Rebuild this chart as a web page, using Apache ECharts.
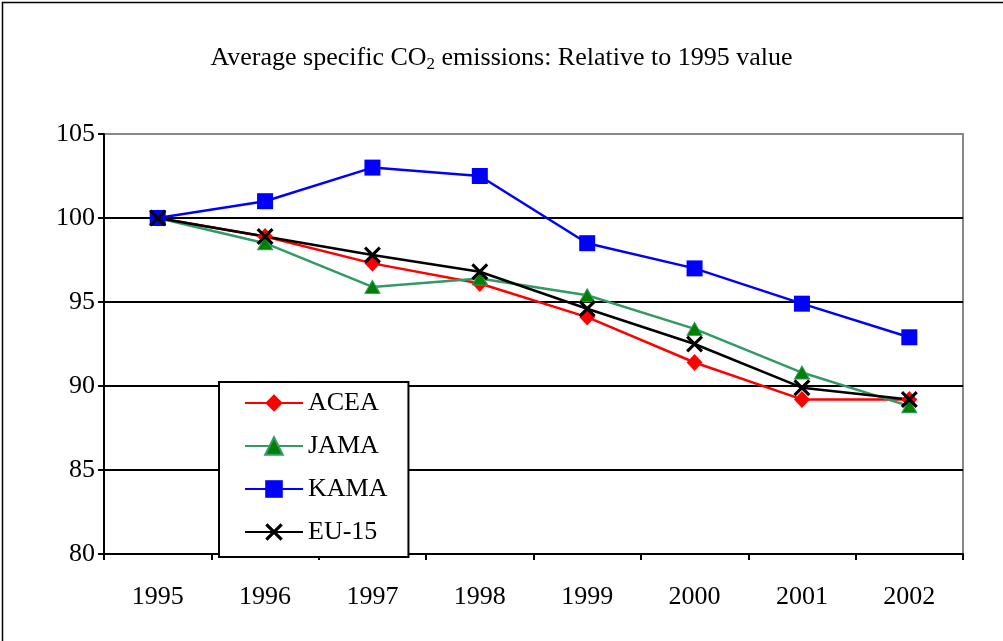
<!DOCTYPE html>
<html>
<head>
<meta charset="utf-8">
<title>Average specific CO2 emissions</title>
<script src="https://cdn.jsdelivr.net/npm/echarts@6/dist/echarts.min.js"></script>
<style>
  html, body { margin: 0; padding: 0; background: #fff; }
  #chart { width: 1003px; height: 641px; }
</style>
</head>
<body>
<div id="chart"></div>
<script>
// data
var years = ['1995', '1996', '1997', '1998', '1999', '2000', '2001', '2002'];
var acea = [100, 98.9, 97.3, 96.1, 94.1, 91.4, 89.2, 89.2];
var jama = [100, 98.5, 95.9, 96.4, 95.4, 93.4, 90.8, 88.8];
var kama = [100, 101, 103, 102.5, 98.5, 97.0, 94.9, 92.9];
var eu15 = [100, 98.9, 97.8, 96.8, 94.6, 92.5, 89.9, 89.2];

var serif = '"Liberation Serif", "DejaVu Serif", serif';
var crossPath = 'path://M0,1.3L1.3,0L5,3.7L8.7,0L10,1.3L6.3,5L10,8.7L8.7,10L5,6.3L1.3,10L0,8.7L3.7,5Z';

var chart = echarts.init(document.getElementById('chart'));

var option = {
  backgroundColor: '#fff',
  animation: false,
  title: {
    text: 'Average specific CO{sub|2} emissions: Relative to 1995 value',
    left: 'center',
    top: 39,
    textStyle: {
      fontFamily: serif,
      fontSize: 26,
      fontWeight: 'normal',
      color: '#000',
      rich: {
        sub: { fontFamily: serif, fontSize: 17, color: '#000', verticalAlign: 'bottom', padding: [12, 0, 0, 0] }
      }
    }
  },
  graphic: [{
    type: 'rect',
    left: 0, top: 0,
    shape: { x: 0, y: 0, width: 1020, height: 660 },
    position: [4, 1],
    style: { fill: 'none', stroke: '#000', lineWidth: 1.5 },
    silent: true,
    z: -1
  }],
  legend: {
    orient: 'vertical',
    left: 219,
    top: 382,
    padding: [8, 21, 12, 25],
    itemWidth: 58,
    itemHeight: 22,
    itemGap: 17,
    borderColor: '#000',
    borderWidth: 2,
    backgroundColor: '#fff',
    textStyle: { fontFamily: serif, fontSize: 26, color: '#000' },
    data: ['ACEA', 'JAMA', 'KAMA', 'EU-15']
  },
  grid: { left: 104, right: 40, top: 134, bottom: 87, show: true, borderColor: '#888', borderWidth: 2 },
  xAxis: {
    type: 'category',
    data: years,
    boundaryGap: true,
    axisLine: { lineStyle: { color: '#000', width: 2 } },
    axisTick: { show: true, length: 6, lineStyle: { color: '#000', width: 2 } },
    axisLabel: { fontFamily: serif, fontSize: 26, color: '#000', margin: 30 }
  },
  yAxis: {
    type: 'value',
    min: 80, max: 105, interval: 5,
    axisLine: { show: true, lineStyle: { color: '#000', width: 2 } },
    axisTick: { show: true, length: 6, lineStyle: { color: '#000', width: 2 } },
    axisLabel: { fontFamily: serif, fontSize: 26, color: '#000', margin: 9 },
    splitLine: { lineStyle: { color: ['#000', '#000', '#000', '#000', '#000', '#888'], width: 2 } }
  },
  series: [
    {
      name: 'ACEA', type: 'line', data: acea,
      symbol: 'diamond', symbolSize: [16, 17],
      lineStyle: { color: '#ff0000', width: 2.5 },
      itemStyle: { color: '#ff0000' }
    },
    {
      name: 'JAMA', type: 'line', data: jama,
      symbol: 'triangle', symbolSize: [15, 13],
      lineStyle: { color: '#339966', width: 2.5 },
      itemStyle: { color: '#008000', borderColor: '#339966', borderWidth: 1 }
    },
    {
      name: 'KAMA', type: 'line', data: kama,
      symbol: 'rect', symbolSize: 16,
      lineStyle: { color: '#0000ff', width: 2.5 },
      itemStyle: { color: '#0000ff' }
    },
    {
      name: 'EU-15', type: 'line', data: eu15,
      symbol: crossPath, symbolSize: 17,
      lineStyle: { color: '#000', width: 2.5 },
      itemStyle: { color: '#000' }
    }
  ]
};

chart.setOption(option);
</script>
</body>
</html>
